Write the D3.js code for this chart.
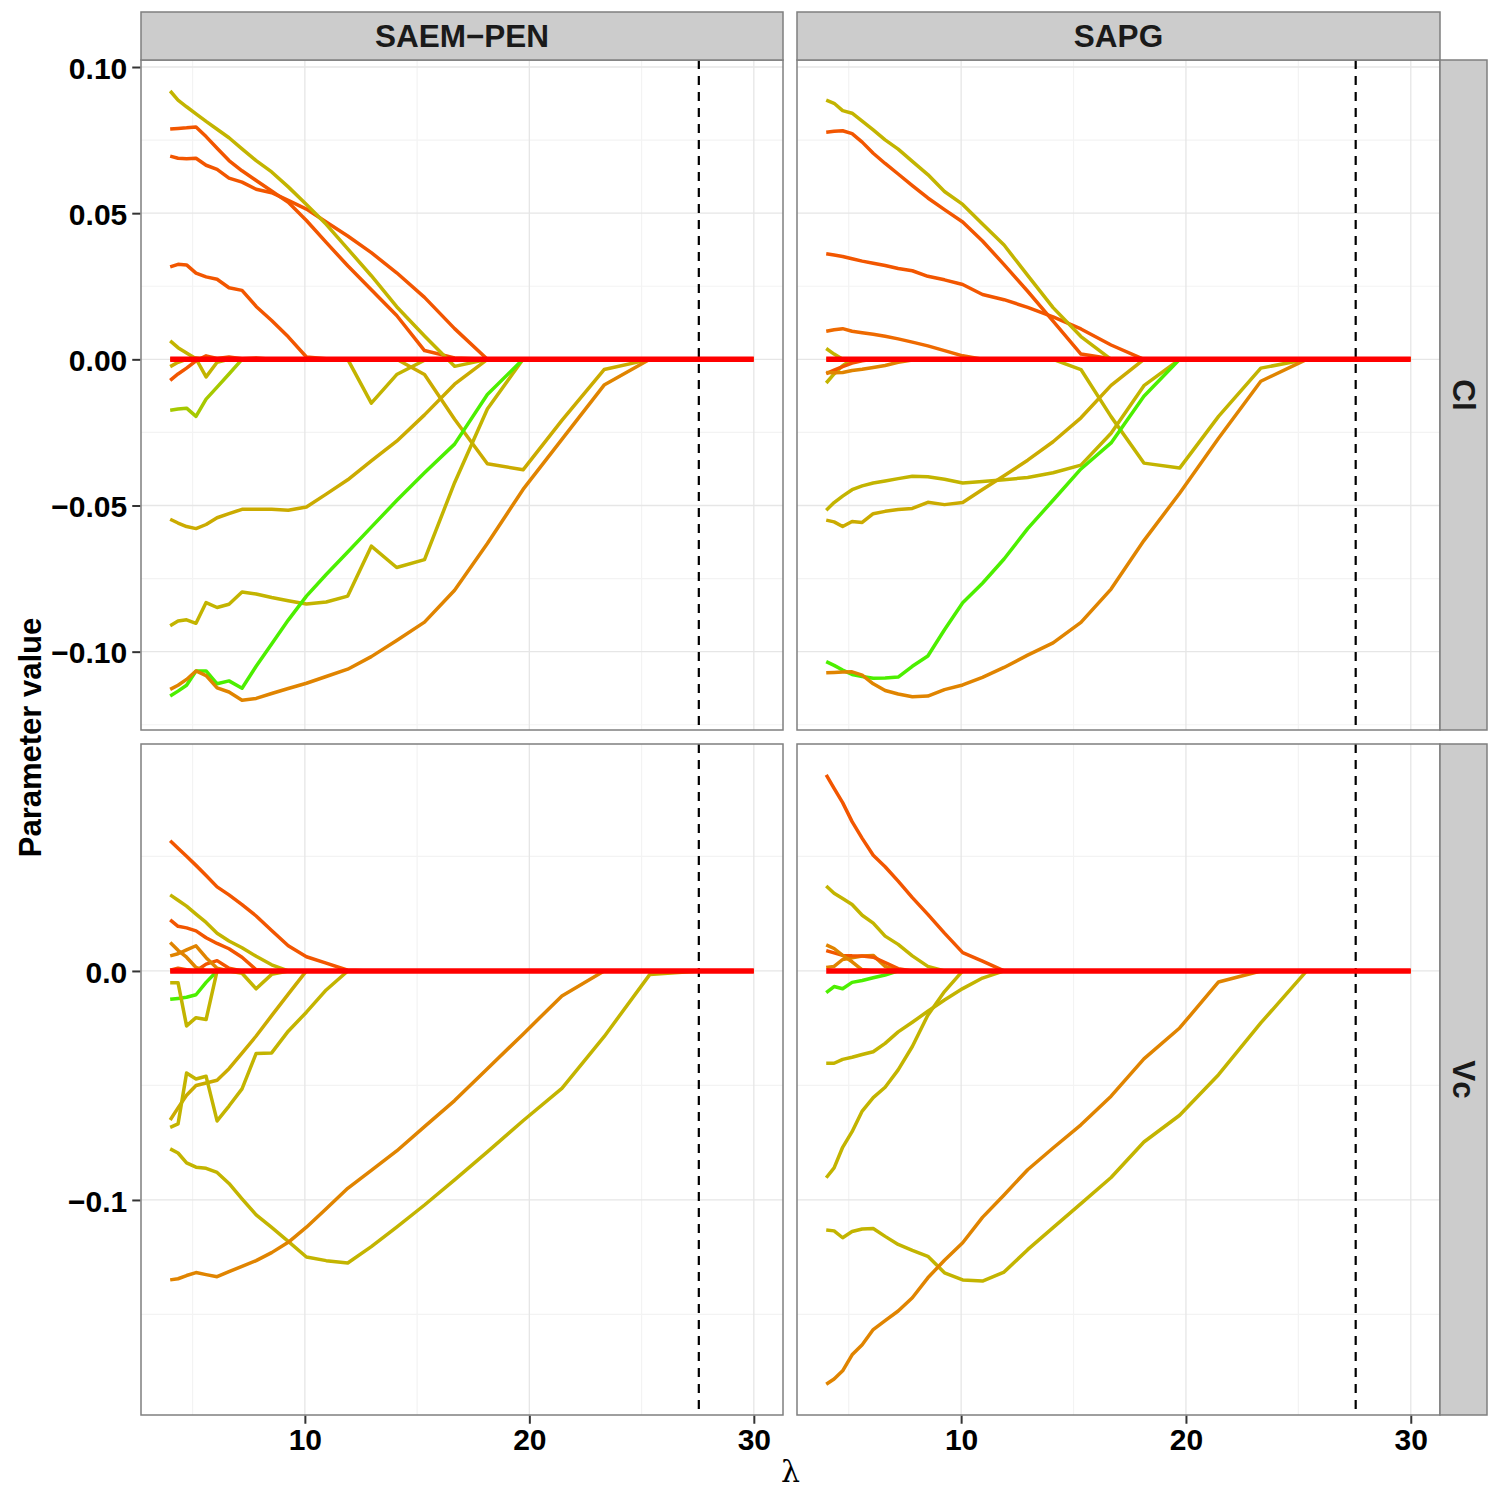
<!DOCTYPE html>
<html><head><meta charset="utf-8">
<script src="https://cdn.jsdelivr.net/npm/d3@7"></script>
<style>body{margin:0;background:#fff}</style>
</head><body>
<svg id="chart" width="1500" height="1500"></svg>
<script>
// ---------------- DATA ----------------
const lambdas = [4.00,4.35,4.73,5.15,5.60,6.09,6.62,7.20,7.83,8.52,9.26,10.07,10.95,11.91,12.96,14.09,15.33,16.67,18.13,19.72,21.45,23.33,25.37,27.59,30.00];
const methods = ["SAEM\u2212PEN", "SAPG"];
const params = ["Cl", "Vc"];
const cutoffLambda = 27.55;
const xTicks = [10, 20, 30];
const xMinorTicks = [5, 15, 25];
const clTicks = [0.10, 0.05, 0.00, -0.05, -0.10];
const clMinorTicks = [0.075, 0.025, -0.025, -0.075, -0.125];
const vcTicks = [0.0, -0.1];
const vcMinorTicks = [0.05, -0.05, -0.15];
const xTitle = "\u03bb";
const yTitle = "Parameter value";

// SAEM-PEN, Cl
const saemCl_a = [0.0918,0.0887,0.0864,0.0840,0.0814,0.0787,0.0758,0.0720,0.0680,0.0641,0.0590,0.0530,0.0462,0.0378,0.0286,0.0180,0.0080,-0.0024,0,0,0,0,0,0,0];
const saemCl_b = [0.0788,0.0790,0.0792,0.0795,0.0762,0.0722,0.0680,0.0645,0.0612,0.0576,0.0537,0.0475,0.0400,0.0320,0.0238,0.0150,0.0030,0.0005,0,0,0,0,0,0,0];
const saemCl_c = [0.0695,0.0688,0.0686,0.0688,0.0664,0.0650,0.0620,0.0606,0.0582,0.0570,0.0544,0.0514,0.0470,0.0422,0.0365,0.0296,0.0212,0.0105,0,0,0,0,0,0,0];
const saemCl_d = [0.0316,0.0325,0.0323,0.0295,0.0282,0.0274,0.0245,0.0236,0.0181,0.0133,0.0077,0.0008,0.0002,0,0,0,0,0,0,0,0,0,0,0,0];
const saemCl_e = [0.0063,0.0040,0.0022,0.0002,-0.0060,-0.0010,0,0,0,0,0,0,0,0,0,0,0,0,0,0,0,0,0,0,0];
const saemCl_f = [-0.0025,-0.0010,0,0.0005,0,0,0,0,0,0,0,0,0,0,0,0,0,0,0,0,0,0,0,0,0];
const saemCl_g = [-0.0072,-0.0050,-0.0030,-0.0005,0.0012,0.0003,0.0008,0.0002,0.0005,0,0,0,0,0,0,0,0,0,0,0,0,0,0,0,0];
const saemCl_h = [-0.0174,-0.0170,-0.0167,-0.0195,-0.0136,-0.0095,-0.0050,0,0,0,0,0,0,0,0,0,0,0,0,0,0,0,0,0,0];
const saemCl_i = [0,0,0,0,0,0,0,0,0,0,0,0,0,0,-0.0150,-0.0052,-0.0003,0,0,0,0,0,0,0,0];
const saemCl_j = [0,0,0,0,0,0,0,0,0,0,0,0,0,0,0,0,-0.0052,-0.0205,-0.0357,-0.0378,-0.0209,-0.0035,0,0,0];
const saemCl_k = [-0.0547,-0.0560,-0.0572,-0.0579,-0.0565,-0.0542,-0.0528,-0.0513,-0.0513,-0.0513,-0.0516,-0.0505,-0.0461,-0.0412,-0.0347,-0.0280,-0.0190,-0.0085,0,0,0,0,0,0,0];
const saemCl_l = [-0.0911,-0.0895,-0.0891,-0.0903,-0.0832,-0.0849,-0.0838,-0.0796,-0.0803,-0.0815,-0.0826,-0.0837,-0.0830,-0.0810,-0.0639,-0.0712,-0.0685,-0.0422,-0.0170,0,0,0,0,0,0];
const saemCl_m = [-0.1152,-0.1135,-0.1115,-0.1066,-0.1066,-0.1110,-0.1100,-0.1125,-0.1050,-0.0974,-0.0892,-0.0810,-0.0736,-0.0659,-0.0574,-0.0483,-0.0388,-0.0290,-0.0120,0,0,0,0,0,0];
const saemCl_n = [-0.1129,-0.1115,-0.1095,-0.1066,-0.1082,-0.1124,-0.1138,-0.1166,-0.1160,-0.1143,-0.1126,-0.1108,-0.1085,-0.1060,-0.1017,-0.0962,-0.0899,-0.0790,-0.0630,-0.0445,-0.0274,-0.0088,0,0,0];

// SAPG, Cl
const sapgCl_a = [0.0887,0.0876,0.0851,0.0842,0.0815,0.0785,0.0751,0.0719,0.0677,0.0632,0.0574,0.0530,0.0463,0.0391,0.0287,0.0177,0.0078,0,0,0,0,0,0,0,0];
const sapgCl_b = [0.0777,0.0780,0.0782,0.0772,0.0743,0.0705,0.0670,0.0634,0.0594,0.0552,0.0512,0.0470,0.0405,0.0324,0.0233,0.0131,0.0018,0.0002,0,0,0,0,0,0,0];
const sapgCl_c = [0.0361,0.0357,0.0352,0.0344,0.0336,0.0329,0.0321,0.0311,0.0303,0.0284,0.0272,0.0256,0.0222,0.0204,0.0178,0.0145,0.0104,0.0049,0,0,0,0,0,0,0];
const sapgCl_d = [0.0096,0.0101,0.0105,0.0096,0.0091,0.0086,0.0079,0.0070,0.0059,0.0046,0.0030,0.0012,0,0,0,0,0,0,0,0,0,0,0,0,0];
const sapgCl_e = [0.0037,0.0018,0,0,0,0,0,0,0,0,0,0,0,0,0,0,0,0,0,0,0,0,0,0,0];
const sapgCl_f = [-0.0081,-0.0050,-0.0022,0,0,0,0,0,0,0,0,0,0,0,0,0,0,0,0,0,0,0,0,0,0];
const sapgCl_g = [-0.0049,-0.0037,-0.0025,-0.0013,-0.0005,0,0,0,0,0,0,0,0,0,0,0,0,0,0,0,0,0,0,0,0];
const sapgCl_h = [-0.0045,-0.0046,-0.0045,-0.0038,-0.0034,-0.0028,-0.0021,-0.0010,-0.0002,0,0,0,0,0,0,0,0,0,0,0,0,0,0,0,0];
const sapgCl_i = [0,0,0,0,0,0,0,0,0,0,0,0,0,0,0,0,-0.0035,-0.0196,-0.0355,-0.0372,-0.0195,-0.0030,0,0,0];
const sapgCl_j = [-0.0516,-0.0490,-0.0468,-0.0446,-0.0433,-0.0423,-0.0416,-0.0408,-0.0400,-0.0402,-0.0410,-0.0423,-0.0418,-0.0412,-0.0404,-0.0388,-0.0362,-0.0253,-0.0090,0,0,0,0,0,0];
const sapgCl_k = [-0.0550,-0.0556,-0.0572,-0.0555,-0.0558,-0.0528,-0.0520,-0.0514,-0.0510,-0.0489,-0.0497,-0.0490,-0.0445,-0.0398,-0.0345,-0.0282,-0.0200,-0.0089,0,0,0,0,0,0,0];
const sapgCl_m = [-0.1034,-0.1047,-0.1063,-0.1078,-0.1085,-0.1091,-0.1090,-0.1087,-0.1050,-0.1015,-0.0925,-0.0833,-0.0766,-0.0683,-0.0579,-0.0482,-0.0375,-0.0286,-0.0126,0,0,0,0,0,0];
const sapgCl_n = [-0.1072,-0.1071,-0.1070,-0.1069,-0.1080,-0.1110,-0.1133,-0.1145,-0.1154,-0.1152,-0.1130,-0.1114,-0.1088,-0.1054,-0.1012,-0.0970,-0.0900,-0.0786,-0.0620,-0.0458,-0.0270,-0.0075,0,0,0];

// SAEM-PEN, Vc
const saemVc_a = [0.0569,0.0536,0.0501,0.0461,0.0417,0.0367,0.0332,0.0290,0.0240,0.0177,0.0110,0.0062,0.0034,0.0003,0,0,0,0,0,0,0,0,0,0,0];
const saemVc_b = [0.0332,0.0309,0.0283,0.0248,0.0212,0.0165,0.0131,0.0101,0.0064,0.0027,0,0,0,0,0,0,0,0,0,0,0,0,0,0,0];
const saemVc_c = [0.0223,0.0195,0.0188,0.0175,0.0145,0.0120,0.0097,0.0060,0.0005,0,0,0,0,0,0,0,0,0,0,0,0,0,0,0,0];
const saemVc_d = [0.0124,0.0090,0.0060,0.0015,0,0,0,0,0,0,0,0,0,0,0,0,0,0,0,0,0,0,0,0,0];
const saemVc_e = [0.0066,0.0075,0.0092,0.0110,0.0058,0.0012,0,0,0,0,0,0,0,0,0,0,0,0,0,0,0,0,0,0,0];
const saemVc_f = [0.0003,0.0012,0.0005,0,0.0030,0.0045,0.0012,0,0,0,0,0,0,0,0,0,0,0,0,0,0,0,0,0,0];
const saemVc_g = [0,0,0,0,0,0,0,-0.0010,-0.0078,-0.0015,0,0,0,0,0,0,0,0,0,0,0,0,0,0,0];
const saemVc_h = [-0.0124,-0.0120,-0.0115,-0.0104,-0.0050,0,0,0,0,0,0,0,0,0,0,0,0,0,0,0,0,0,0,0,0];
const saemVc_i = [-0.0051,-0.0051,-0.0240,-0.0204,-0.0212,0,0,0,0,0,0,0,0,0,0,0,0,0,0,0,0,0,0,0,0];
const saemVc_j = [-0.0651,-0.0598,-0.0543,-0.0500,-0.0489,-0.0477,-0.0427,-0.0359,-0.0284,-0.0195,-0.0101,0,0,0,0,0,0,0,0,0,0,0,0,0,0];
const saemVc_k = [-0.0683,-0.0668,-0.0446,-0.0472,-0.0460,-0.0655,-0.0590,-0.0515,-0.0360,-0.0358,-0.0263,-0.0180,-0.0083,0,0,0,0,0,0,0,0,0,0,0,0];
const saemVc_l = [-0.0777,-0.0795,-0.0838,-0.0857,-0.0862,-0.0880,-0.0928,-0.0995,-0.1065,-0.1120,-0.1181,-0.1249,-0.1265,-0.1275,-0.1204,-0.1119,-0.1022,-0.0912,-0.0790,-0.0654,-0.0513,-0.0287,-0.0015,0,0];
const saemVc_n = [-0.1349,-0.1344,-0.1330,-0.1317,-0.1326,-0.1335,-0.1313,-0.1290,-0.1265,-0.1230,-0.1185,-0.1119,-0.1038,-0.0949,-0.0871,-0.0786,-0.0680,-0.0566,-0.0427,-0.0276,-0.0109,0,0,0,0];

// SAPG, Vc
const sapgVc_a = [0.0856,0.0797,0.0735,0.0652,0.0579,0.0505,0.0455,0.0392,0.0320,0.0247,0.0165,0.0080,0.0043,0,0,0,0,0,0,0,0,0,0,0,0];
const sapgVc_b = [0.0371,0.0339,0.0316,0.0290,0.0243,0.0209,0.0152,0.0116,0.0066,0.0020,0,0,0,0,0,0,0,0,0,0,0,0,0,0,0];
const sapgVc_c = [0.0114,0.0098,0.0068,0.0040,0.0005,0,0,0,0,0,0,0,0,0,0,0,0,0,0,0,0,0,0,0,0];
const sapgVc_d = [0.0089,0.0079,0.0068,0.0066,0.0065,0.0060,0.0037,0.0010,0,0,0,0,0,0,0,0,0,0,0,0,0,0,0,0,0];
const sapgVc_e = [0.0015,0.0020,0.0050,0.0058,0.0065,0.0068,0.0020,0,0,0,0,0,0,0,0,0,0,0,0,0,0,0,0,0,0];
const sapgVc_h = [-0.0095,-0.0068,-0.0078,-0.0050,-0.0042,-0.0030,-0.0018,0,0,0,0,0,0,0,0,0,0,0,0,0,0,0,0,0,0];
const sapgVc_j = [-0.0403,-0.0403,-0.0386,-0.0377,-0.0365,-0.0353,-0.0316,-0.0266,-0.0224,-0.0176,-0.0127,-0.0077,-0.0031,0,0,0,0,0,0,0,0,0,0,0,0];
const sapgVc_k = [-0.0903,-0.0860,-0.0770,-0.0702,-0.0612,-0.0553,-0.0508,-0.0432,-0.0330,-0.0193,-0.0090,0,0,0,0,0,0,0,0,0,0,0,0,0,0];
const sapgVc_l = [-0.1131,-0.1135,-0.1165,-0.1138,-0.1127,-0.1125,-0.1159,-0.1194,-0.1220,-0.1246,-0.1318,-0.1349,-0.1354,-0.1315,-0.1217,-0.1121,-0.1016,-0.0902,-0.0747,-0.0630,-0.0453,-0.0227,0,0,0];
const sapgVc_n = [-0.1805,-0.1782,-0.1746,-0.1676,-0.1632,-0.1566,-0.1527,-0.1485,-0.1427,-0.1340,-0.1263,-0.1187,-0.1076,-0.0978,-0.0868,-0.0773,-0.0672,-0.0547,-0.0384,-0.0249,-0.0048,0,0,0,0];

// zero (unselected) coefficients
const zeroPath = [0,0,0,0,0,0,0,0,0,0,0,0,0,0,0,0,0,0,0,0,0,0,0,0,0];

// ---------------- STYLE ----------------
const C = {
  yel: "#c3b400", ylo: "#cbab00", org: "#e08400", ore: "#f25600", orr: "#ee6a00",
  ygr: "#a6c900", grn: "#4cef00", red: "#ff0000"
};
const panels = [
  {m:0, p:0, series:[
    [saemCl_e,C.yel],[saemCl_f,C.ylo],[saemCl_g,C.ore],[saemCl_h,C.ygr],
    [saemCl_i,C.yel],[saemCl_j,C.ylo],[saemCl_k,C.ylo],[saemCl_l,C.yel],
    [saemCl_m,C.grn],[saemCl_n,C.org],[saemCl_d,C.ore],[saemCl_c,C.ore],[saemCl_b,C.ore],[saemCl_a,C.yel],
    [zeroPath,C.red]]},
  {m:1, p:0, series:[
    [sapgCl_e,C.yel],[sapgCl_f,C.yel],[sapgCl_g,C.ore],[sapgCl_h,C.org],
    [sapgCl_i,C.yel],[sapgCl_j,C.yel],[sapgCl_k,C.ylo],
    [sapgCl_m,C.grn],[sapgCl_n,C.org],[sapgCl_d,C.orr],[sapgCl_c,C.ore],[sapgCl_b,C.ore],[sapgCl_a,C.yel],
    [zeroPath,C.red]]},
  {m:0, p:1, series:[
    [saemVc_f,C.ore],[saemVc_e,C.org],[saemVc_d,C.org],[saemVc_g,C.yel],[saemVc_h,C.grn],[saemVc_i,C.yel],
    [saemVc_j,C.ylo],[saemVc_k,C.yel],[saemVc_l,C.yel],[saemVc_n,C.org],
    [saemVc_c,C.ore],[saemVc_b,C.yel],[saemVc_a,C.ore],
    [zeroPath,C.red]]},
  {m:1, p:1, series:[
    [sapgVc_e,C.org],[sapgVc_d,C.ore],[sapgVc_c,C.org],[sapgVc_h,C.grn],
    [sapgVc_j,C.yel],[sapgVc_k,C.yel],[sapgVc_l,C.yel],[sapgVc_n,C.org],
    [sapgVc_b,C.yel],[sapgVc_a,C.ore],
    [zeroPath,C.red]]}
];

// ---------------- LAYOUT ----------------
const FONT = "'Liberation Sans', Arial, Helvetica, sans-serif";
const colX = [[141,783],[797,1440]];
const rowY = [[60,730],[744,1415]];
const stripTopY = [12,60];
const stripRightX = [1440,1487];
const xDomain = [2.7, 31.3];
const yDomains = [[-0.1268, 0.1024], [-0.1939, 0.0991]];

const svg = d3.select("#chart");
svg.append("rect").attr("width",1500).attr("height",1500).attr("fill","#fff");

panels.forEach(pan => {
  const [x0,x1] = colX[pan.m];
  const [y0,y1] = rowY[pan.p];
  const x = d3.scaleLinear().domain(xDomain).range([x0,x1]);
  const y = d3.scaleLinear().domain(yDomains[pan.p]).range([y1,y0]);
  const g = svg.append("g");
  g.append("rect").attr("x",x0).attr("y",y0).attr("width",x1-x0).attr("height",y1-y0).attr("fill","#fff");
  const minorY = pan.p===0 ? clMinorTicks : vcMinorTicks;
  const majorY = pan.p===0 ? clTicks : vcTicks;
  g.selectAll(null).data(xMinorTicks).enter().append("line")
    .attr("x1",d=>x(d)).attr("x2",d=>x(d)).attr("y1",y0).attr("y2",y1)
    .attr("stroke","#f3f3f3").attr("stroke-width",1.2);
  g.selectAll(null).data(minorY).enter().append("line")
    .attr("y1",d=>y(d)).attr("y2",d=>y(d)).attr("x1",x0).attr("x2",x1)
    .attr("stroke","#f3f3f3").attr("stroke-width",1.2);
  g.selectAll(null).data(xTicks).enter().append("line")
    .attr("x1",d=>x(d)).attr("x2",d=>x(d)).attr("y1",y0).attr("y2",y1)
    .attr("stroke","#e6e6e6").attr("stroke-width",1.3);
  g.selectAll(null).data(majorY).enter().append("line")
    .attr("y1",d=>y(d)).attr("y2",d=>y(d)).attr("x1",x0).attr("x2",x1)
    .attr("stroke","#e6e6e6").attr("stroke-width",1.3);
  g.append("line").attr("x1",x(cutoffLambda)).attr("x2",x(cutoffLambda))
    .attr("y1",y0).attr("y2",y1).attr("stroke","#000").attr("stroke-width",2.2)
    .attr("stroke-dasharray","9,7");
  const line = d3.line().x((d,i)=>x(lambdas[i])).y(d=>y(d));
  pan.series.forEach(([vals,col]) => {
    g.append("path").attr("d",line(vals)).attr("fill","none")
      .attr("stroke",col).attr("stroke-width", col===C.red ? 5.5 : 3.5)
      .attr("stroke-linejoin","round").attr("stroke-linecap","butt");
  });
  g.append("rect").attr("x",x0).attr("y",y0).attr("width",x1-x0).attr("height",y1-y0)
    .attr("fill","none").attr("stroke","#7f7f7f").attr("stroke-width",1.5);

  if (pan.m===0) {
    const ax = d3.axisLeft(y).tickValues(majorY)
      .tickFormat(d3.format(pan.p===0 ? ".2f" : ".1f")).tickSize(8).tickPadding(5);
    const ag = svg.append("g").attr("transform",`translate(${x0-0.75},0)`).call(ax);
    ag.select(".domain").remove();
    ag.selectAll("line").attr("stroke","#333").attr("stroke-width",2);
    ag.selectAll("text").attr("font-family",FONT).attr("font-size",30).attr("font-weight","bold")
      .attr("fill","#000").attr("dy","0.37em");
  }
  if (pan.p===1) {
    const ax = d3.axisBottom(x).tickValues(xTicks).tickFormat(d3.format("d")).tickSize(8).tickPadding(5);
    const ag = svg.append("g").attr("transform",`translate(0,${y1+0.75})`).call(ax);
    ag.select(".domain").remove();
    ag.selectAll("line").attr("stroke","#333").attr("stroke-width",2);
    ag.selectAll("text").attr("font-family",FONT).attr("font-size",30).attr("font-weight","bold")
      .attr("fill","#000");
  }
});

methods.forEach((m,i) => {
  const [x0,x1] = colX[i];
  svg.append("rect").attr("x",x0).attr("y",stripTopY[0]).attr("width",x1-x0)
    .attr("height",stripTopY[1]-stripTopY[0]).attr("fill","#cccccc").attr("stroke","#7f7f7f").attr("stroke-width",1.5);
  svg.append("text").attr("x",(x0+x1)/2).attr("y",(stripTopY[0]+stripTopY[1])/2+11)
    .attr("text-anchor","middle").attr("font-family",FONT).attr("font-size",31.5)
    .attr("font-weight","bold").attr("fill","#1a1a1a").text(m);
});
params.forEach((p,i) => {
  const [y0,y1] = rowY[i];
  svg.append("rect").attr("x",stripRightX[0]).attr("y",y0).attr("width",stripRightX[1]-stripRightX[0])
    .attr("height",y1-y0).attr("fill","#cccccc").attr("stroke","#7f7f7f").attr("stroke-width",1.5);
  const cx = (stripRightX[0]+stripRightX[1])/2 - 11, cy = (y0+y1)/2;
  svg.append("text").attr("transform",`translate(${cx},${cy}) rotate(90)`)
    .attr("text-anchor","middle").attr("font-family",FONT).attr("font-size",31.5)
    .attr("font-weight","bold").attr("fill","#1a1a1a").text(p);
});

svg.append("text").attr("transform","translate(41,737.5) rotate(-90)")
  .attr("text-anchor","middle").attr("font-family",FONT).attr("font-size",31)
  .attr("font-weight","bold").attr("fill","#000").text(yTitle);
svg.append("text").attr("x",(colX[0][0]+colX[1][1])/2).attr("y",1482)
  .attr("text-anchor","middle").attr("font-family","'DejaVu Serif','Liberation Serif',serif").attr("font-size",30)
  .attr("fill","#000").text(xTitle);
</script>
</body></html>
